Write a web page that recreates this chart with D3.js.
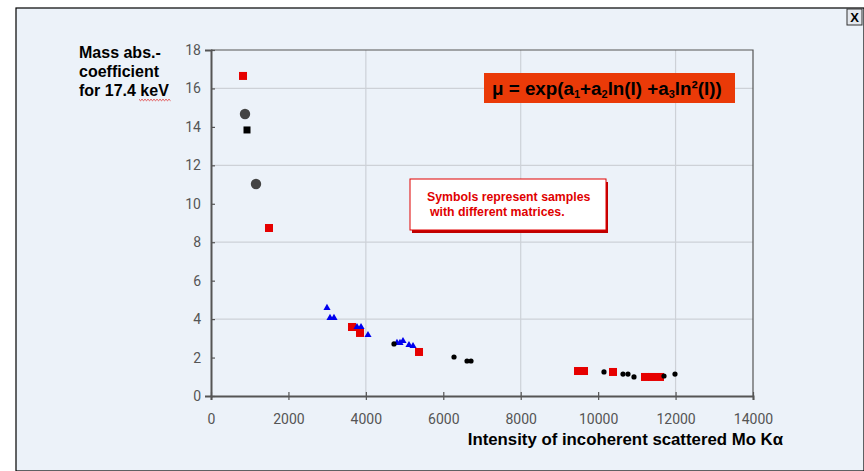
<!DOCTYPE html>
<html>
<head>
<meta charset="utf-8">
<script src="https://cdn.jsdelivr.net/npm/d3@7"></script>
<style>
  body { margin: 0; background: #fff; }
  svg { display: block; }
</style>
</head>
<body>
<script>
// values: [intensity, mass abs. coefficient]
const redSquares = [[827, 16.65], [1498, 8.74], [3642, 3.59], [3849, 3.28], [5373, 2.29],
  [9480, 1.30], [9635, 1.30], [10384, 1.25], [11210, 0.99], [11391, 0.99], [11598, 0.99]];
const blackSquares = [[930, 13.84]];
const greyCircles = [[878, 14.67], [1162, 11.03]];
const blueTriangles = [[2996, 4.58], [3074, 4.06], [3177, 4.06], [3771, 3.59], [3875, 3.59],
  [4055, 3.17], [4804, 2.76], [4882, 2.76], [4959, 2.86], [5114, 2.65], [5218, 2.60]];
const blackDots = [[4727, 2.71], [6277, 2.03], [6613, 1.82], [6716, 1.82], [10151, 1.25],
  [10642, 1.14], [10771, 1.14], [10926, 0.99], [11701, 1.04], [11985, 1.14]];
const xTicks = [0, 2000, 4000, 6000, 8000, 10000, 12000, 14000];
const yTicks = [0, 2, 4, 6, 8, 10, 12, 14, 16, 18];
const xGrid = [4000, 8000, 12000];
const yGrid = [4, 8, 12, 16];

const W = 864, H = 471;
const bg = "#ecf2f9";
const svg = d3.select("body").append("svg").attr("width", W).attr("height", H);

// panel
svg.append("rect").attr("x", 16).attr("y", 8).attr("width", W - 16).attr("height", H - 8)
  .attr("fill", bg).attr("stroke", "#000").attr("stroke-width", 1.2);

// close box
const cb = svg.append("g").attr("transform", "translate(847,9)");
cb.append("rect").attr("width", 15).attr("height", 16).attr("fill", "#e4e8ee")
  .attr("stroke", "#333").attr("stroke-width", 1);
cb.append("text").attr("x", 7.5).attr("y", 13).attr("text-anchor", "middle")
  .attr("font-family", "Liberation Sans, Arial").attr("font-weight", "bold")
  .attr("font-size", 13).text("X");

const x = d3.scaleLinear().domain([0, 14000]).range([211, 753]);
const y = d3.scaleLinear().domain([0, 18]).range([396, 50]);

// grid
svg.append("g").selectAll("line").data(xGrid).join("line")
  .attr("x1", d => x(d)).attr("x2", d => x(d)).attr("y1", y(18)).attr("y2", y(0))
  .attr("stroke", "#cdd1d7").attr("stroke-width", 1.2);
svg.append("g").selectAll("line").data(yGrid).join("line")
  .attr("x1", x(0)).attr("x2", x(14000)).attr("y1", d => y(d)).attr("y2", d => y(d))
  .attr("stroke", "#cdd1d7").attr("stroke-width", 1.2);

// frame top/right
svg.append("path")
  .attr("d", `M${x(0)},${y(18)}H${x(14000)}V${y(0)}`)
  .attr("fill", "none").attr("stroke", "#555").attr("stroke-width", 1.2);

// axes
const xAxis = svg.append("g").attr("transform", `translate(0,${y(0)})`)
  .call(d3.axisBottom(x).tickValues(xTicks).tickSize(4).tickPadding(14).tickFormat(d3.format("d")));
const yAxis = svg.append("g").attr("transform", `translate(${x(0)},0)`)
  .call(d3.axisLeft(y).tickValues(yTicks).tickSize(6).tickPadding(4));
[xAxis, yAxis].forEach(a => {
  a.select(".domain").attr("stroke", "#555").attr("stroke-width", 2);
  a.selectAll(".tick line").attr("stroke", "#555").attr("stroke-width", 1.2);
  a.selectAll(".tick text").attr("fill", "#555")
    .attr("font-family", "Roboto, Liberation Sans, Arial").attr("font-size", 14);
});
xAxis.selectAll(".tick line").attr("y1", -4);
yAxis.selectAll(".tick line").attr("x2", 4);

// markers
const marks = svg.append("g");
marks.selectAll(".rs").data(redSquares).join("rect")
  .attr("x", d => x(d[0]) - 4).attr("y", d => y(d[1]) - 4)
  .attr("width", 8).attr("height", 8).attr("fill", "#e60000");
marks.selectAll(".bs").data(blackSquares).join("rect")
  .attr("x", d => x(d[0]) - 3.5).attr("y", d => y(d[1]) - 3.5)
  .attr("width", 7).attr("height", 7).attr("fill", "#000");
marks.selectAll(".gc").data(greyCircles).join("circle")
  .attr("cx", d => x(d[0])).attr("cy", d => y(d[1])).attr("r", 5.2).attr("fill", "#444");
const tri = d3.symbol().type(d3.symbolTriangle).size(22);
marks.selectAll(".bt").data(blueTriangles).join("path")
  .attr("transform", d => `translate(${x(d[0])},${y(d[1])})`)
  .attr("d", tri).attr("fill", "#0000ee");
marks.selectAll(".bd").data(blackDots).join("circle")
  .attr("cx", d => x(d[0])).attr("cy", d => y(d[1])).attr("r", 2.6).attr("fill", "#000");

// y title
const yt = svg.append("text").attr("font-family", "Liberation Sans, Arial")
  .attr("font-weight", "bold").attr("font-size", 16).attr("fill", "#000");
["Mass abs.-", "coefficient", "for 17.4 keV"].forEach((s, i) =>
  yt.append("tspan").attr("x", 79).attr("y", 58 + i * 19).text(s));
// spell-check squiggle under keV
const sq = d3.range(0, 33, 1.5).map((d, i) => [139 + d, 99.5 + (i % 2 ? 1.2 : -0.2)]);
svg.append("path").attr("d", d3.line()(sq)).attr("fill", "none")
  .attr("stroke", "#e02020").attr("stroke-width", 0.8);

// x title
svg.append("text").attr("x", 783).attr("y", 445).attr("text-anchor", "end")
  .attr("font-family", "Liberation Sans, Arial").attr("font-weight", "bold")
  .attr("font-size", 16.8).attr("fill", "#000")
  .text("Intensity of incoherent scattered Mo K\u03B1");

// formula box
svg.append("rect").attr("x", 484).attr("y", 73).attr("width", 251).attr("height", 30)
  .attr("fill", "#ea3a08");
const ft = svg.append("text").attr("x", 492).attr("y", 95)
  .attr("font-family", "Liberation Sans, Arial").attr("font-weight", "bold")
  .attr("font-size", 18.8).attr("fill", "#000");
ft.append("tspan").text("\u03BC = exp(a");
ft.append("tspan").attr("font-size", 11).attr("dy", 3).text("1");
ft.append("tspan").attr("dy", -3).text("+a");
ft.append("tspan").attr("font-size", 11).attr("dy", 3).text("2");
ft.append("tspan").attr("dy", -3).text("ln(I) +a");
ft.append("tspan").attr("font-size", 11).attr("dy", 3).text("3");
ft.append("tspan").attr("dy", -3).text("ln\u00B2(I))");

// note box
svg.append("rect").attr("x", 412).attr("y", 182).attr("width", 196).attr("height", 51)
  .attr("fill", "#c00000");
svg.append("rect").attr("x", 410).attr("y", 179).attr("width", 196).attr("height", 51)
  .attr("fill", "#fff").attr("stroke", "#e00000").attr("stroke-width", 1);
const nt = svg.append("text").attr("font-family", "Liberation Sans, Arial")
  .attr("font-weight", "bold").attr("font-size", 12.3).attr("fill", "#e00000");
nt.append("tspan").attr("x", 427).attr("y", 201).text("Symbols represent samples");
nt.append("tspan").attr("x", 430).attr("y", 216).text("with different matrices.");
</script>
</body>
</html>
